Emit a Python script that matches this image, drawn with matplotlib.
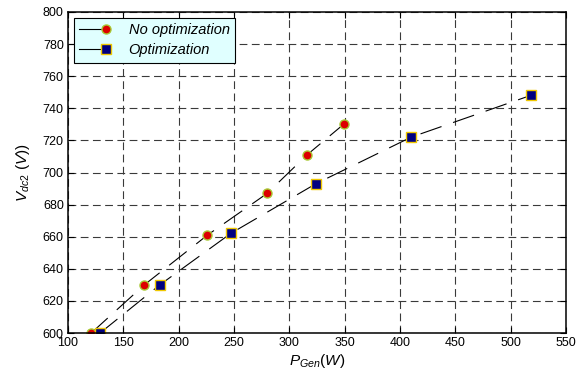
import numpy as np
import matplotlib
matplotlib.use("Agg")
import matplotlib.pyplot as plt
from matplotlib.lines import Line2D
from matplotlib.legend_handler import HandlerLine2D

plt.rcParams["font.family"] = ["Liberation Sans", "DejaVu Sans"]
plt.rcParams["mathtext.fontset"] = "custom"
plt.rcParams["mathtext.it"] = "Liberation Sans:italic"
plt.rcParams["mathtext.rm"] = "Liberation Sans"

# ── Data ──────────────────────────────────────────────────────────────────────
p_noopt = [121, 169, 226, 280, 316, 349]
v_noopt = [600, 630, 661, 687, 711, 730]

p_opt = [129, 183, 247, 324, 410, 518]
v_opt = [600, 630, 662, 693, 722, 748]

x_ticks = [100, 150, 200, 250, 300, 350, 400, 450, 500, 550]
y_ticks = [600, 620, 640, 660, 680, 700, 720, 740, 760, 780, 800]


# legend handle: solid line with the marker at its right end
class HandlerEndMarker(HandlerLine2D):
    def create_artists(self, legend, orig_handle, xdescent, ydescent,
                       width, height, fontsize, trans):
        y = (height - ydescent) / 2
        x_end = -xdescent + width * 0.62
        line = Line2D([-xdescent, x_end], [y, y])
        self.update_prop(line, orig_handle, legend)
        line.set_marker("")
        mark = Line2D([x_end], [y])
        self.update_prop(mark, orig_handle, legend)
        mark.set_linestyle("")
        line.set_transform(trans)
        mark.set_transform(trans)
        return [line, mark]


# ── Plot ──────────────────────────────────────────────────────────────────────
fig = plt.figure(figsize=(5.87, 3.80), dpi=100)
ax = fig.add_axes([68 / 587, 1 - 333 / 380, 498 / 587, 321 / 380])

mk1 = dict(marker="o", markersize=6.5, markerfacecolor="#dd0000",
           markeredgecolor="#a8c832", markeredgewidth=1.0)
mk2 = dict(marker="s", markersize=6.5, markerfacecolor="#000080",
           markeredgecolor="#f0c800", markeredgewidth=1.0)

ax.plot(p_noopt, v_noopt, color="black", linewidth=0.8, dashes=(20, 11), **mk1)
ax.plot(p_opt, v_opt, color="black", linewidth=0.8, dashes=(20, 11), **mk2)

ax.set_xlim(100, 550)
ax.set_ylim(600, 800)
ax.set_xticks(x_ticks)
ax.set_yticks(y_ticks)
ax.tick_params(direction="in", length=4, width=0.8, top=True, right=True,
               labelsize=9, pad=3)
ax.grid(True, color="#3a3a3a", linestyle=(0, (7, 4)), linewidth=0.8)
for s in ax.spines.values():
    s.set_linewidth(1.1)

ax.set_xlabel(r"$\mathit{P}_{\mathit{Gen}}\mathit{(W)}$", fontsize=11,
              labelpad=2)
ax.set_ylabel(r"$\mathit{V}_{\mathit{dc2}}\ \mathit{(V))}$", fontsize=11,
              labelpad=8)

h1 = Line2D([], [], color="black", linewidth=0.8, **mk1)
h2 = Line2D([], [], color="black", linewidth=0.8, **mk2)
leg = ax.legend([h1, h2], ["No optimization", "Optimization"],
                loc="upper left", prop={"style": "italic", "size": 10.5},
                frameon=True, fancybox=False, borderaxespad=0.4,
                handlelength=3.0, labelspacing=0.45, borderpad=0.35,
                handletextpad=0.4,
                handler_map={h1: HandlerEndMarker(), h2: HandlerEndMarker()})
leg.get_frame().set_facecolor("#e0ffff")
leg.get_frame().set_edgecolor("black")
leg.get_frame().set_linewidth(0.8)
leg.get_frame().set_alpha(1)

fig.savefig("out.png", dpi=100)
